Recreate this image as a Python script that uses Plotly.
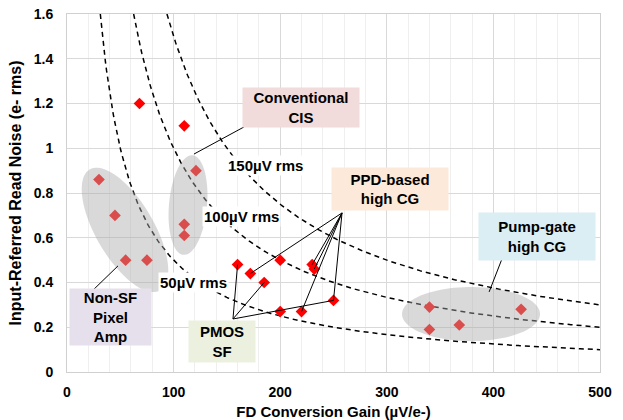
import numpy as np
import plotly.graph_objects as go

# Measured sensors: floating-diffusion conversion gain (µV/e-) vs input-referred read noise (e- rms)
cg = [68, 110, 121, 30, 45, 55, 75, 110, 110, 160, 172, 185, 200, 200, 220, 230, 232, 250, 340, 340, 368, 426]
noise = [1.20, 1.10, 0.90, 0.86, 0.70, 0.50, 0.50, 0.66, 0.61, 0.48, 0.44, 0.40, 0.50, 0.27, 0.27, 0.48, 0.46, 0.32, 0.29, 0.19, 0.21, 0.28]

# Iso-noise reference curves: input-referred noise = output noise voltage / conversion gain
iso_uv = [50, 100, 150]
iso_text = ["50µV rms", "100µV rms", "150µV rms"]
iso_text_x = [119, 164, 186]
iso_text_y = [0.402, 0.697, 0.921]

x_ticks = [0, 100, 200, 300, 400, 500]
y_ticks = [0, 0.2, 0.4, 0.6, 0.8, 1.0, 1.2, 1.4, 1.6]
y_tick_text = ["0", "0.2", "0.4", "0.6", "0.8", "1", "1.2", "1.4", "1.6"]

# Which points each category callout points to (indices into cg / noise)
ppd_targets = [10, 15, 16, 14, 17]
pmos_targets = [9, 11, 17]

W, H = 623, 420
ML, MR, MT, MB = 67, 23, 14, 48
XR, YR = (0, 500), (0, 1.6)
sx = (W - ML - MR) / (XR[1] - XR[0])   # px per µV/e-
sy = (H - MT - MB) / (YR[1] - YR[0])   # px per e-

FONT = "Liberation Sans, Arial, sans-serif"


def ellipse_path(cx, cy, a_px, b_px, ang_deg, n=90):
    """Closed SVG path (data coords) of an ellipse specified in screen pixels."""
    th = np.deg2rad(ang_deg)
    t = np.linspace(0, 2 * np.pi, n, endpoint=False)
    ex = a_px * np.cos(t) * np.cos(th) - b_px * np.sin(t) * np.sin(th)
    ey = a_px * np.cos(t) * np.sin(th) + b_px * np.sin(t) * np.cos(th)
    xs = cx + ex / sx
    ys = cy - ey / sy
    pts = [f"{x:.3f},{y:.4f}" for x, y in zip(xs, ys)]
    return "M" + " L".join(pts) + " Z"


fig = go.Figure()

# dashed iso-noise curves
for v in iso_uv:
    xc = np.linspace(v / YR[1], XR[1], 400)
    fig.add_trace(go.Scatter(x=xc, y=v / xc, mode="lines",
                             line=dict(color="black", width=1.5, dash="5px,4px"),
                             hoverinfo="skip", showlegend=False))

fig.add_trace(go.Scatter(x=cg, y=noise, mode="markers",
                         marker=dict(symbol="diamond", size=9, color="#FF0000"),
                         showlegend=False))

shapes = []
ell_fill = "rgba(170,170,170,0.45)"
for cx, cy, a, b, ang in [(54.4, 0.635, 70, 29, 59.7),
                          (113.5, 0.746, 50, 19, 95.2),
                          (379.0, 0.259, 69, 27, 0.0)]:
    shapes.append(dict(type="path", path=ellipse_path(cx, cy, a, b, ang), xref="x", yref="y",
                       fillcolor=ell_fill, line=dict(width=0), layer="above"))

line_style = dict(color="black", width=1)
# callout leader lines
ppd_apex = (258, 0.711)
pmos_apex = (155.7, 0.237)
for i in ppd_targets:
    shapes.append(dict(type="line", xref="x", yref="y", x0=ppd_apex[0], y0=ppd_apex[1],
                       x1=cg[i], y1=noise[i], line=line_style, layer="above"))
for i in pmos_targets:
    shapes.append(dict(type="line", xref="x", yref="y", x0=pmos_apex[0], y0=pmos_apex[1],
                       x1=cg[i], y1=noise[i], line=line_style, layer="above"))
for x0, y0, x1, y1 in [(119.1, 0.974, 166, 1.095),
                       (47.8, 0.474, 24.4, 0.366),
                       (396, 0.358, 408, 0.505)]:
    shapes.append(dict(type="line", xref="x", yref="y", x0=x0, y0=y0, x1=x1, y1=y1,
                       line=line_style, layer="above"))

annotations = []
for t, x, y in zip(iso_text, iso_text_x, iso_text_y):
    annotations.append(dict(x=x, y=y, xref="x", yref="y", text=t, showarrow=False,
                            bgcolor="white", borderpad=1,
                            font=dict(family=FONT, size=15, color="black", weight="bold")))

boxes = [
    ("Conventional<br>CIS", 219.5, 1.18, 116, 39, "#F2DCDB"),
    ("PPD-based<br>high CG", 303, 0.818, 116, 42, "#FDE9D9"),
    ("Pump-gate<br>high CG", 441, 0.606, 116, 47, "#DAEEF3"),
    ("Non-SF<br>Pixel<br>Amp", 40.8, 0.246, 81, 56, "#E6E0EC"),
    ("PMOS<br>SF", 145.4, 0.136, 66, 41, "#EBF1DE"),
]
for t, x, y, w, h, c in boxes:
    annotations.append(dict(x=x, y=y, xref="x", yref="y", text=t, showarrow=False,
                            width=w, height=h, bgcolor=c, borderpad=0, align="center",
                            font=dict(family=FONT, size=15, color="black", weight="bold")))

fig.update_layout(
    width=W, height=H,
    margin=dict(l=ML, r=MR, t=MT, b=MB, autoexpand=False),
    paper_bgcolor="white", plot_bgcolor="white",
    font=dict(family=FONT, size=14, color="black"),
    shapes=shapes, annotations=annotations,
)

fig.update_xaxes(range=list(XR), tickvals=x_ticks, showgrid=True, gridcolor="#D9D9D9", gridwidth=1,
                 minor=dict(dtick=20, showgrid=True, gridcolor="#EFEFEF", gridwidth=1),
                 showline=True, linecolor="#D0D0D0", linewidth=1, mirror=True, zeroline=False,
                 automargin=False,
                 tickfont=dict(family=FONT, size=14, weight="bold"), ticklabelstandoff=7,
                 title=dict(text="FD Conversion Gain (µV/e-)", standoff=7,
                            font=dict(family=FONT, size=15, weight="bold")))
fig.update_yaxes(range=list(YR), tickvals=y_ticks, ticktext=y_tick_text, showgrid=True,
                 gridcolor="#D9D9D9", gridwidth=1,
                 showline=True, linecolor="#D0D0D0", linewidth=1, mirror=True, zeroline=False,
                 automargin=False,
                 tickfont=dict(family=FONT, size=14, weight="bold"), ticklabelstandoff=10,
                 title=dict(text="Input-Referred Read Noise (e- rms)", standoff=8,
                            font=dict(family=FONT, size=16, weight="bold")))

fig.write_html("out.html")
